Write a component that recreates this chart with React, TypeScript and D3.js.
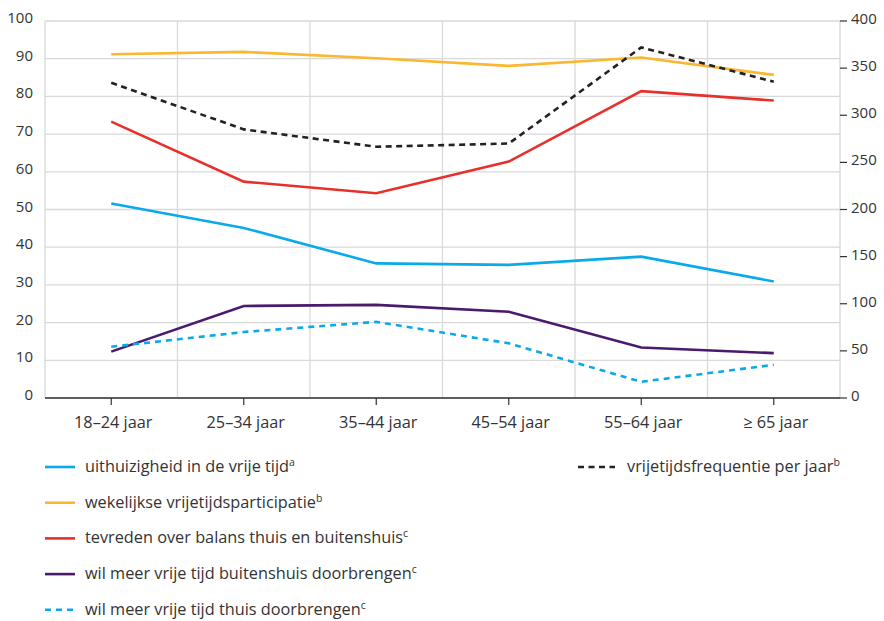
import React from "react";
import * as d3 from "d3";

const categories = ["18–24 jaar", "25–34 jaar", "35–44 jaar", "45–54 jaar", "55–64 jaar", "≥ 65 jaar"];
const leftTicks = [0, 10, 20, 30, 40, 50, 60, 70, 80, 90, 100];
const rightTicks = [0, 50, 100, 150, 200, 250, 300, 350, 400];

const uithuizigheid = [51.6, 45.1, 35.7, 35.3, 37.5, 30.9];
const wekelijkse = [91.2, 91.8, 90.1, 88.1, 90.3, 85.7];
const tevreden = [73.3, 57.4, 54.3, 62.7, 81.4, 78.9];
const meerBuiten = [12.3, 24.4, 24.7, 22.9, 13.4, 11.9];
const meerThuis = [13.6, 17.5, 20.2, 14.5, 4.3, 8.8];
const frequentie = [334.5, 285, 266.6, 270, 372, 335.6];

const series = [
  { label: "uithuizigheid in de vrije tijd", sup: "a", values: uithuizigheid, color: "#0aa9ea", dash: null, axis: "left" },
  { label: "wekelijkse vrijetijdsparticipatie", sup: "b", values: wekelijkse, color: "#fbb72f", dash: null, axis: "left" },
  { label: "tevreden over balans thuis en buitenshuis", sup: "c", values: tevreden, color: "#e8302b", dash: null, axis: "left" },
  { label: "wil meer vrije tijd buitenshuis doorbrengen", sup: "c", values: meerBuiten, color: "#4a1a6c", dash: null, axis: "left" },
  { label: "wil meer vrije tijd thuis doorbrengen", sup: "c", values: meerThuis, color: "#0aa9ea", dash: "6,5", axis: "left" },
  { label: "vrijetijdsfrequentie per jaar", sup: "b", values: frequentie, color: "#222222", dash: "6,4.5", axis: "right" },
];

const W = 884, H = 621;
const L = 45, R = 840, T = 21, B = 398;
const FONT = "'Open Sans', sans-serif";
const TXT = "#333";

export default function App() {
  const x = d3.scaleBand<string>().domain(categories).range([L, R]).padding(0);
  const yL = d3.scaleLinear().domain([0, 100]).range([B, T]);
  const yR = d3.scaleLinear().domain([0, 400]).range([B, T]);
  const cx = (c: string) => (x(c) as number) + x.bandwidth() / 2;

  const legendLeft = series.slice(0, 5);
  const legendRight = series[5];

  return (
    <svg width={W} height={H} style={{ position: "absolute", left: 0, top: 0, background: "#fff" }} fontFamily={FONT}>
      {leftTicks.map((t) => (
        <line key={"g" + t} x1={L} x2={R} y1={yL(t)} y2={yL(t)} stroke="#d9d9d9" strokeWidth={1.3} />
      ))}
      {categories.map((c, i) => (
        <line key={"v" + i} x1={x(c) as number} x2={x(c) as number} y1={T} y2={B} stroke="#d9d9d9" strokeWidth={1.3} />
      ))}
      <line x1={R} x2={R} y1={T} y2={B} stroke="#d9d9d9" strokeWidth={1.3} />

      {leftTicks.map((t) => (
        <text key={"l" + t} x={33} y={yL(t) - 2} textAnchor="end" dominantBaseline="middle" fontSize={15} fill={TXT}>
          {t}
        </text>
      ))}
      {rightTicks.map((t) => (
        <g key={"r" + t}>
          <line x1={R} x2={R + 7} y1={yR(t)} y2={yR(t)} stroke="#333" strokeWidth={1.2} />
          <text x={851} y={yR(t) - 1} dominantBaseline="middle" fontSize={15} fill={TXT}>
            {t}
          </text>
        </g>
      ))}

      <line x1={L} x2={R} y1={B} y2={B} stroke="#333" strokeWidth={1.5} />
      {categories.map((c) => (
        <g key={"x" + c}>
          <line x1={cx(c)} x2={cx(c)} y1={B} y2={B + 7} stroke="#333" strokeWidth={1.2} />
          <text x={cx(c) + 2} y={428} textAnchor="middle" fontSize={16.3} fill={TXT}>
            {c}
          </text>
        </g>
      ))}

      {series.map((s, i) => {
        const ys = s.axis === "left" ? yL : yR;
        const gen = d3
          .line<number>()
          .x((_, j) => cx(categories[j]))
          .y((v) => ys(v));
        return (
          <path
            key={"s" + i}
            d={gen(s.values) as string}
            fill="none"
            stroke={s.color}
            strokeWidth={2.6}
            strokeDasharray={s.dash ?? undefined}
            strokeLinejoin="miter"
          />
        );
      })}

      {legendLeft.map((s, i) => {
        const yy = 467 + i * 35.7;
        return (
          <g key={"lg" + i}>
            <line x1={45} x2={75} y1={yy} y2={yy} stroke={s.color} strokeWidth={2.6} strokeDasharray={s.dash ?? undefined} />
            <text x={85} y={yy + 5} fontSize={16.3} fill={TXT}>
              {s.label}
              <tspan fontSize={10.5} dy={-6}>{s.sup}</tspan>
            </text>
          </g>
        );
      })}
      <g>
        <line x1={578} x2={615} y1={467} y2={467} stroke={legendRight.color} strokeWidth={2.6} strokeDasharray={legendRight.dash ?? undefined} />
        <text x={627} y={472} fontSize={16.3} fill={TXT}>
          {legendRight.label}
          <tspan fontSize={10.5} dy={-6}>{legendRight.sup}</tspan>
        </text>
      </g>
    </svg>
  );
}
